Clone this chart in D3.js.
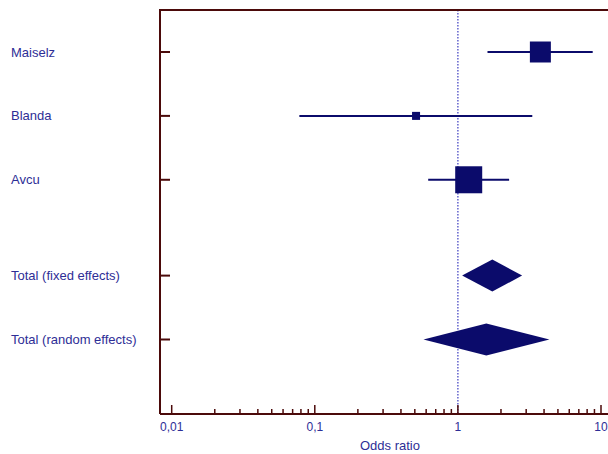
<!DOCTYPE html>
<html>
<head>
<meta charset="utf-8">
<script src="https://cdn.jsdelivr.net/npm/d3@7"></script>
<style>
  body { margin: 0; background: #fff; }
  svg { display: block; font-family: "Liberation Sans", Arial, sans-serif; }
</style>
</head>
<body>
<div id="chart"></div>
<script>
// studies and pooled estimates (odds ratio, 95% CI)
const studies = ["Maiselz", "Blanda", "Avcu"];
const studyOR = [3.77, 0.51, 1.19];
const studyLow = [1.61, 0.078, 0.62];
const studyHigh = [8.75, 3.31, 2.28];
const studyWeight = [35.7, 5.2, 59.1];

const totals = ["Total (fixed effects)", "Total (random effects)"];
const totalOR = [1.74, 1.58];
const totalLow = [1.07, 0.575];
const totalHigh = [2.81, 4.36];

const tickValues = [0.01, 0.1, 1, 10];
const tickLabels = ["0,01", "0,1", "1", "10"];

const axisColor = "#4b0a0a";
const markColor = "#0b0b6b";
const textColor = "#2e2e96";

function drawForest(selector) {
    const width = 608, height = 454;
    const margin = {top: 10, right: -12, bottom: 40, left: 160};
    const innerW = width - margin.left - margin.right;
    const innerH = height - margin.top - margin.bottom;

    const svg = d3.select(selector)
        .append("svg")
        .attr("width", width)
        .attr("height", height);
    const g = svg.append("g")
        .attr("transform", "translate(" + margin.left + "," + margin.top + ")");

    // rows: three studies, a gap, then the two totals
    const rowPos = [0, 1, 2, 3.5, 4.5];
    const y = d3.scaleLinear().domain([0, 4.5]).range([42, 329.5]);

    const x = d3.scaleLog()
        .domain([0.01, 10])
        .range([171.7 - margin.left, 601 - margin.left]);

    const side = d3.scaleSqrt().domain([0, d3.max(studyWeight)]).range([0, 27]);

    // reference line at OR = 1
    g.append("line")
        .attr("x1", x(1)).attr("x2", x(1))
        .attr("y1", 0).attr("y2", innerH)
        .attr("stroke", "#3a3ac0")
        .attr("stroke-width", 1.2)
        .attr("stroke-dasharray", "1.5,1.5");

    // frame: top and left border
    g.append("path")
        .attr("d", "M" + (innerW + 20) + ",0H0V" + innerH)
        .attr("fill", "none")
        .attr("stroke", axisColor)
        .attr("stroke-width", 2);

    // x axis with log minor ticks pointing up
    g.append("line")
        .attr("x1", 0).attr("x2", innerW + 20)
        .attr("y1", innerH).attr("y2", innerH)
        .attr("stroke", axisColor).attr("stroke-width", 2);

    const allTicks = x.ticks(10).filter(t => t >= 0.01 && t <= 10);
    g.selectAll(".xtick")
        .data(allTicks)
        .enter()
        .append("line")
        .attr("x1", d => x(d)).attr("x2", d => x(d))
        .attr("y1", innerH)
        .attr("y2", d => tickValues.some(v => Math.abs(v - d) < 1e-9) ? innerH - 9 : innerH - 5)
        .attr("stroke", axisColor).attr("stroke-width", 1.5);

    g.selectAll(".xlabel")
        .data(tickValues)
        .enter()
        .append("text")
        .attr("x", d => x(d))
        .attr("y", innerH + 17)
        .attr("text-anchor", "middle")
        .attr("fill", textColor)
        .style("font-size", "12px")
        .text((d, i) => tickLabels[i]);

    g.append("text")
        .attr("x", 390 - margin.left)
        .attr("y", innerH + 36)
        .attr("text-anchor", "middle")
        .attr("fill", textColor)
        .style("font-size", "13px")
        .text("Odds ratio");

    // y ticks and row labels
    const labels = studies.concat(totals);
    labels.forEach((name, i) => {
        const yy = y(rowPos[i]);
        g.append("line")
            .attr("x1", 0).attr("x2", 10)
            .attr("y1", yy).attr("y2", yy)
            .attr("stroke", axisColor).attr("stroke-width", 2);
        svg.append("text")
            .attr("x", 11)
            .attr("y", yy + margin.top + 4.5)
            .attr("fill", textColor)
            .style("font-size", "13px")
            .text(name);
    });

    // study CIs and weighted squares
    studies.forEach((name, i) => {
        const yy = y(rowPos[i]);
        g.append("line")
            .attr("x1", x(studyLow[i])).attr("x2", x(studyHigh[i]))
            .attr("y1", yy).attr("y2", yy)
            .attr("stroke", markColor).attr("stroke-width", 2);
        const s = side(studyWeight[i]);
        g.append("rect")
            .attr("x", x(studyOR[i]) - s / 2)
            .attr("y", yy - s / 2)
            .attr("width", s).attr("height", s)
            .attr("fill", markColor);
    });

    // pooled diamonds
    totals.forEach((name, i) => {
        const yy = y(rowPos[3 + i]);
        const h = 16;
        g.append("path")
            .attr("d", "M" + x(totalLow[i]) + "," + yy +
                "L" + x(totalOR[i]) + "," + (yy - h) +
                "L" + x(totalHigh[i]) + "," + yy +
                "L" + x(totalOR[i]) + "," + (yy + h) + "Z")
            .attr("fill", markColor);
    });
}

drawForest("#chart");
</script>
</body>
</html>
